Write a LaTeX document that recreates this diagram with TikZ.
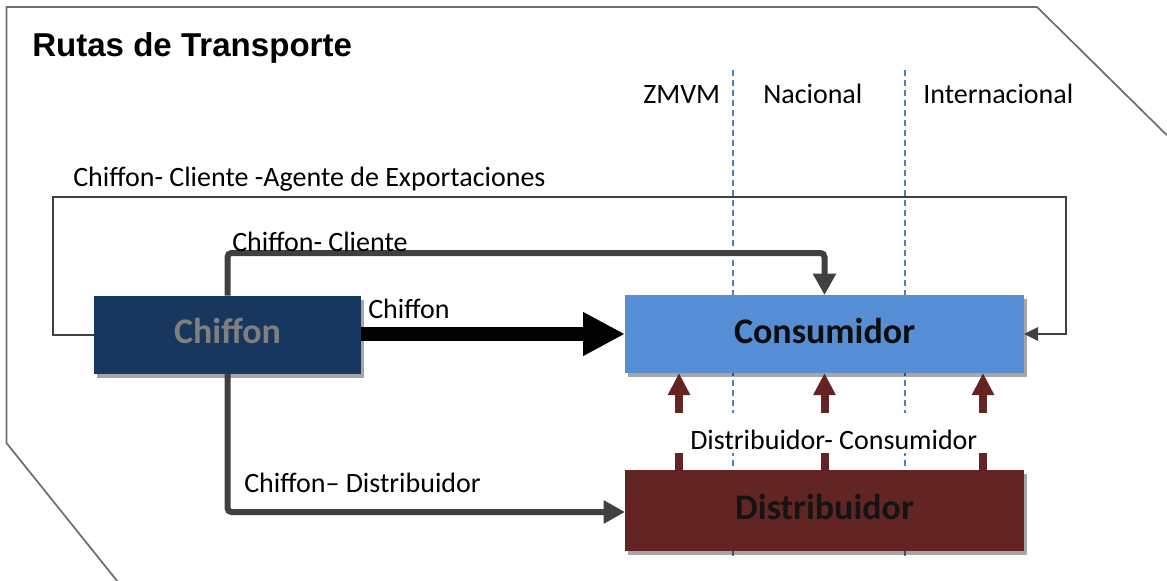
\documentclass[tikz,border=0pt]{standalone}
\usepackage{fontspec}
\setmainfont{Carlito}
\newfontfamily\titlefont{Liberation Sans}
\usetikzlibrary{arrows.meta,shadows}
\definecolor{navy}{HTML}{17375E}
\definecolor{skyb}{HTML}{558ED5}
\definecolor{maroon}{HTML}{632523}
\definecolor{dashb}{HTML}{4F81BD}
\definecolor{lgray}{HTML}{7F7F7F}
\definecolor{dgray}{HTML}{404040}
\definecolor{frame}{HTML}{6E6E6E}
\tikzset{
  box/.style={rectangle, inner sep=0pt, outer sep=0pt,
    font=\fontsize{27}{30}\selectfont\bfseries, text height=19.5pt, text depth=6pt,
    drop shadow={shadow xshift=2pt, shadow yshift=-3pt, opacity=0.35, fill=black}},
  lbl/.style={font=\fontsize{21}{23}\selectfont, inner sep=0pt, anchor=base west},
  greyarrow/.style={draw=dgray, line width=4.5pt, rounded corners=3pt,
    -{Triangle[length=16pt, width=16.5pt]}},
  thickarrow/.style={draw=black, line width=10.5pt, -{Triangle[length=31.5pt, width=30.75pt]}},
  thinarrow/.style={draw=dgray, line width=1.5pt, -{Triangle[length=10.5pt, width=10pt]}},
  redarrow/.style={draw=maroon, line width=6pt, -{Triangle[length=16.5pt, width=15.75pt]}},
  zone/.style={draw=dashb, line width=1.2pt, dash pattern=on 4.5pt off 3pt},
}
\begin{document}
\begin{tikzpicture}[x=0.75pt, y=-0.75pt]
\useasboundingbox (0,0) rectangle (1167,581);
\begin{scope}
\clip (0,0) rectangle (1167,581);
\draw[frame, line width=1.3pt] (130,597) -- (6.5,443) -- (6.5,7) -- (1037,7) -- (1187,155);
\end{scope}

% title
\node[font=\titlefont\fontsize{24.8}{28}\selectfont\bfseries, inner sep=0pt, anchor=base west] (title) at (32,57) {Rutas de Transporte};

% zone separators
\coordinate (z1t) at (733,70);
\coordinate (z1b) at (733,556);
\coordinate (z2t) at (905,70);
\coordinate (z2b) at (905,556);
\draw[zone] (z1t) -- (z1b);
\draw[zone] (z2t) -- (z2b);
\node[lbl] (zmvm) at (643,104) {ZMVM};
\node[lbl] (nac) at (763,104) {Nacional};
\node[lbl] (intl) at (923,104) {Internacional};

% boxes
\node[box, fill=navy, text=lgray, minimum width=200.25pt, minimum height=58.5pt] (chiffon) at (227.5,334.5) {Chiffon};
\node[box, fill=skyb, text=black!95, minimum width=299.25pt, minimum height=58.5pt] (consumidor) at (824.5,334) {Consumidor};
\node[box, fill=maroon, text=black!92, minimum width=299.25pt, minimum height=60.75pt] (distribuidor) at (824.5,510.5) {Distribuidor};

% export route
\coordinate (e1) at (53,197);
\coordinate (e2) at (1066,197);
\draw[thinarrow] (chiffon.west) -| (e1) -- (e2) |- (consumidor.east);
\node[lbl] (lexp) at (73,187) {Chiffon- Cliente -Agente de Exportaciones};

% chiffon - cliente
\coordinate (c1) at (227.5,253);
\draw[greyarrow] (chiffon.north) -- (c1) -| (consumidor.north);
\node[lbl] (lcc) at (232,251) {Chiffon- Cliente};

% chiffon direct
\draw[thickarrow] (chiffon.east |- consumidor.west) -- (consumidor.west);
\node[lbl] (lch) at (368,318) {Chiffon};

% chiffon - distribuidor
\coordinate (d1) at (227.5,512);
\draw[greyarrow] (chiffon.south) -- (d1) -- (d1 -| distribuidor.west);
\node[lbl] (lcd) at (244,492) {Chiffon– Distribuidor};

% distribuidor - consumidor
\coordinate (r1) at (679,0);
\coordinate (r3) at (983,0);
\draw[redarrow] (r1 |- distribuidor.north) -- (r1 |- consumidor.south);
\draw[redarrow] (distribuidor.north) -- (consumidor.south);
\draw[redarrow] (r3 |- distribuidor.north) -- (r3 |- consumidor.south);
\node[lbl, fill=white, inner xsep=21pt, inner ysep=0pt, text height=27pt, text depth=3pt] (ldc) at (662,449) {Distribuidor- Consumidor};
\end{tikzpicture}
\end{document}
